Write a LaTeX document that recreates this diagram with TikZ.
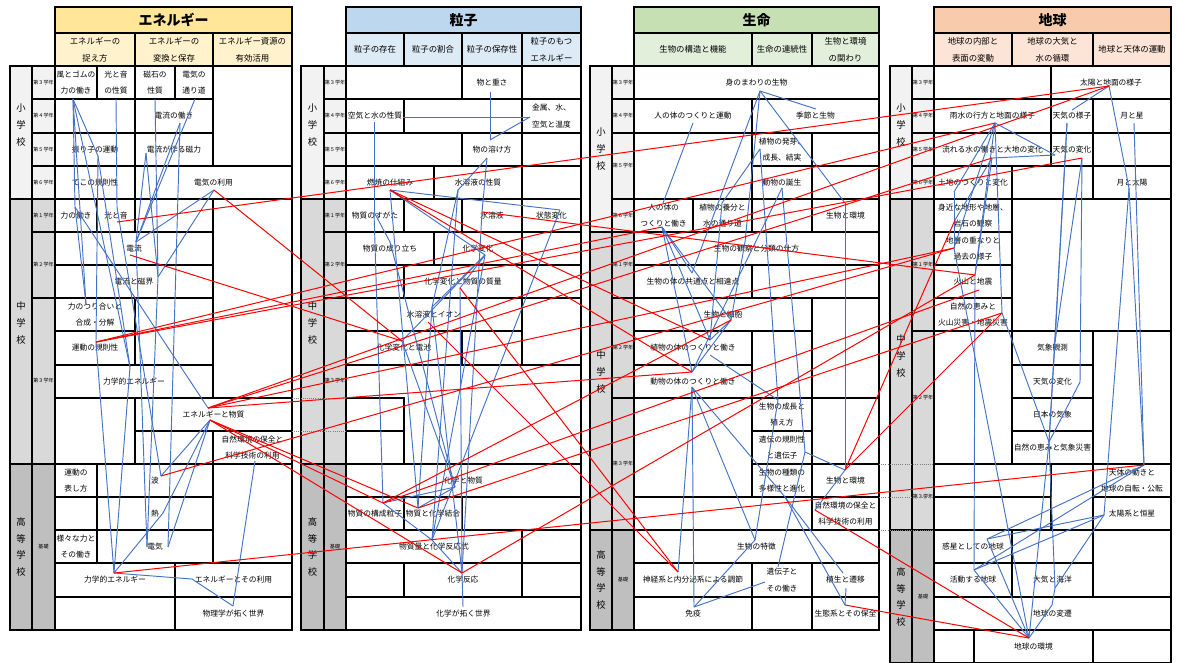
\documentclass[tikz,border=0pt]{standalone}
\usepackage{fontspec}
\setmainfont{Noto Sans CJK JP}
\definecolor{lb}{HTML}{4472C4}
\definecolor{rl}{HTML}{FF0000}
\definecolor{hY}{HTML}{FFE699}
\definecolor{sY}{HTML}{FFF2CC}
\definecolor{hB}{HTML}{BDD7EE}
\definecolor{sB}{HTML}{DDEBF7}
\definecolor{hG}{HTML}{C6E0B4}
\definecolor{sG}{HTML}{E2EFDA}
\definecolor{hO}{HTML}{F8CBAD}
\definecolor{sO}{HTML}{FCE4D6}
\definecolor{gE}{HTML}{F2F2F2}
\definecolor{gM}{HTML}{D9D9D9}
\definecolor{gH}{HTML}{BFBFBF}
\tikzset{
 grid/.style={draw=black, line width=0.9pt},
 ct/.style={font=\fontsize{5.8}{12.5}\selectfont, align=center, inner sep=0pt},
 st/.style={font=\fontsize{6.3}{12.5}\selectfont, align=center, inner sep=0pt},
 tt/.style={font=\fontsize{10.5}{12}\selectfont\bfseries, inner sep=0pt},
 sl/.style={font=\fontsize{7}{12.5}\selectfont, align=center, inner sep=0pt},
 gl/.style={font=\fontsize{3.8}{4}\selectfont, inner sep=0pt},
 bln/.style={draw=lb, line width=0.7pt},
 rdn/.style={draw=rl, line width=0.75pt},
 dot/.style={draw=gray, densely dotted, line width=0.6pt}
}
\newcommand\cel[6]{\draw[grid] (#2,#3) rectangle (#4,#5); \node[ct] (#1) at ({(#2+#4)/2},{(#3+#5)/2}) {#6};}
\newcommand\blk[4]{\draw[grid] (#1,#2) rectangle (#3,#4);}
\newcommand\fbx[5]{\draw[grid,fill=#5] (#1,#2) rectangle (#3,#4);}
\newcommand\BL[2]{\draw[bln] (#1) -- (#2);}
\newcommand\RL[2]{\draw[rdn] (#1) -- (#2);}
\begin{document}
\begin{tikzpicture}[x=0.75pt,y=-0.75pt]
\useasboundingbox (0,0) rectangle (1177,662);
\fill[white] (0,0) rectangle (1177,662);
% ================= PANEL 1 =================
\fbx{55}{7}{292}{33}{hY} \node[tt] (t1) at (173.5,20) {エネルギー};
\fbx{55}{33}{135}{66}{sY} \node[st] (s11) at (95,49.5) {エネルギーの\\捉え方};
\fbx{135}{33}{213}{66}{sY} \node[st] (s12) at (174,49.5) {エネルギーの\\変換と保存};
\fbx{213}{33}{292}{66}{sY} \node[st] (s13) at (252.5,49.5) {エネルギー資源の\\有効活用};
\fbx{10}{66}{32}{199}{gE} \node[sl] (k1e) at (21,125) {小\\学\\校};
\fbx{10}{199}{32}{464}{gM} \node[sl] (k1m) at (21,323) {中\\学\\校};
\fbx{10}{464}{32}{630}{gH} \node[sl] (k1h) at (21,547) {高\\等\\学\\校};
\fbx{32}{66}{55}{99}{gE} \node[gl] (g11) at (43.5,82.5) {第３学年};
\fbx{32}{99}{55}{133}{gE} \node[gl] (g12) at (43.5,116) {第４学年};
\fbx{32}{133}{55}{166}{gE} \node[gl] (g13) at (43.5,149.5) {第５学年};
\fbx{32}{166}{55}{199}{gE} \node[gl] (g14) at (43.5,182.5) {第６学年};
\fbx{32}{199}{55}{232}{gM} \node[gl] (g15) at (43.5,215.5) {第１学年};
\fbx{32}{232}{55}{298}{gM} \node[gl] (g16) at (43.5,265) {第２学年};
\fbx{32}{298}{55}{464}{gM} \node[gl] (g17) at (43.5,381) {第３学年};
\fbx{32}{464}{55}{630}{gH} \node[gl] (g18) at (43.5,547) {基礎};
\cel{a01}{55}{66}{97}{99}{風とゴムの\\力の働き}
\cel{a02}{97}{66}{135}{99}{光と音\\の性質}
\cel{a03}{135}{66}{175}{99}{磁石の\\性質}
\cel{a04}{175}{66}{213}{99}{電気の\\通り道}
\blk{213}{66}{292}{166}
\blk{55}{99}{135}{133}
\cel{a05}{135}{99}{213}{133}{電流の働き}
\cel{a06}{55}{133}{135}{166}{振り子の運動}
\cel{a07}{135}{133}{213}{166}{電流が作る磁力}
\cel{a08}{55}{166}{135}{199}{てこの規則性}
\cel{a09}{135}{166}{292}{199}{電気の利用}
\cel{a10}{55}{199}{97}{232}{力の働き}
\cel{a11}{97}{199}{135}{232}{光と音}
\blk{135}{199}{213}{232}
\blk{213}{199}{292}{398}
\cel{a12}{55}{232}{213}{265}{電流}
\cel{a13}{55}{265}{213}{298}{電流と磁界}
\cel{a14}{55}{298}{135}{331}{力のつり合いと\\合成・分解}
\blk{135}{298}{213}{365}
\cel{a15}{55}{331}{135}{365}{運動の規則性}
\cel{a16}{55}{365}{213}{398}{力学的エネルギー}
\blk{55}{398}{135}{464}
\cel{a17}{135}{398}{292}{431}{エネルギーと物質}
\blk{135}{431}{213}{464}
\cel{a18}{213}{431}{292}{464}{自然環境の保全と\\科学技術の利用}
\cel{a19}{55}{464}{97}{497}{運動の\\表し方}
\cel{a20}{97}{464}{213}{497}{波}
\blk{55}{497}{97}{530}
\cel{a21}{97}{497}{213}{530}{熱}
\cel{a22}{55}{530}{97}{563}{様々な力と\\その働き}
\cel{a23}{97}{530}{213}{563}{電気}
\blk{213}{464}{292}{563}
\cel{a24}{55}{563}{175}{597}{力学的エネルギー}
\cel{a25}{175}{563}{292}{597}{エネルギーとその利用}
\blk{55}{597}{175}{630}
\cel{a26}{175}{597}{292}{630}{物理学が拓く世界}
% ================= PANEL 2 =================
\fbx{346}{7}{581}{33}{hB} \node[tt] (t2) at (463.5,20) {粒子};
\fbx{346}{33}{404}{66}{sB} \node[st] (s21) at (375,49.5) {粒子の存在};
\fbx{404}{33}{462}{66}{sB} \node[st] (s22) at (433,49.5) {粒子の割合};
\fbx{462}{33}{522}{66}{sB} \node[st] (s23) at (492,49.5) {粒子の保存性};
\fbx{522}{33}{581}{66}{sB} \node[st] (s24) at (551.5,49.5) {粒子のもつ\\エネルギー};
\fbx{301}{66}{324}{199}{gE} \node[sl] (k2e) at (312.5,125) {小\\学\\校};
\fbx{301}{199}{324}{464}{gM} \node[sl] (k2m) at (312.5,323) {中\\学\\校};
\fbx{301}{464}{324}{630}{gH} \node[sl] (k2h) at (312.5,547) {高\\等\\学\\校};
\fbx{324}{66}{346}{99}{gE} \node[gl] (g21) at (335,82.5) {第３学年};
\fbx{324}{99}{346}{133}{gE} \node[gl] (g22) at (335,116) {第４学年};
\fbx{324}{133}{346}{166}{gE} \node[gl] (g23) at (335,149.5) {第５学年};
\fbx{324}{166}{346}{199}{gE} \node[gl] (g24) at (335,182.5) {第６学年};
\fbx{324}{199}{346}{232}{gM} \node[gl] (g25) at (335,215.5) {第１学年};
\fbx{324}{232}{346}{298}{gM} \node[gl] (g26) at (335,265) {第２学年};
\fbx{324}{298}{346}{464}{gM} \node[gl] (g27) at (335,381) {第３学年};
\fbx{324}{464}{346}{630}{gH} \node[gl] (g28) at (335,547) {基礎};
\blk{346}{66}{462}{99}
\cel{b01}{462}{66}{522}{99}{物と重さ}
\blk{522}{66}{581}{99}
\cel{b02}{346}{99}{404}{133}{空気と水の性質}
\blk{404}{99}{522}{133}
\cel{b03}{522}{99}{581}{133}{金属、水、\\空気と温度}
\blk{346}{133}{462}{166}
\cel{b04}{462}{133}{522}{166}{物の溶け方}
\blk{522}{133}{581}{166}
\cel{b05}{346}{166}{434}{199}{燃焼の仕組み}
\cel{b06}{434}{166}{522}{199}{水溶液の性質}
\blk{522}{166}{581}{199}
\cel{b07}{346}{199}{404}{232}{物質のすがた}
\blk{404}{199}{462}{232}
\cel{b08}{462}{199}{522}{232}{水溶液}
\cel{b09}{522}{199}{581}{232}{状態変化}
\cel{b10}{346}{232}{434}{265}{物質の成り立ち}
\cel{b11}{434}{232}{522}{265}{化学変化}
\blk{522}{232}{581}{265}
\blk{346}{265}{404}{298}
\cel{b12}{404}{265}{522}{298}{化学変化と物質の質量}
\blk{522}{265}{581}{298}
\cel{b13}{346}{298}{522}{331}{水溶液とイオン}
\blk{522}{298}{581}{365}
\cel{b14}{346}{331}{462}{365}{化学変化と電池}
\blk{462}{331}{522}{365}
\blk{346}{365}{581}{464}
\blk{346}{398}{404}{431}
\blk{346}{431}{404}{464}
\cel{b15}{346}{464}{581}{497}{化学と物質}
\cel{b16}{346}{497}{404}{530}{物質の構成粒子}
\cel{b17}{404}{497}{462}{530}{物質と化学結合}
\blk{462}{497}{581}{530}
\cel{b18}{346}{530}{522}{563}{物質量と化学反応式}
\blk{522}{530}{581}{563}
\blk{346}{563}{404}{597}
\cel{b19}{404}{563}{522}{597}{化学反応}
\blk{522}{563}{581}{597}
\cel{b20}{346}{597}{581}{630}{化学が拓く世界}
% ================= PANEL 3 =================
\fbx{634}{7}{879}{33}{hG} \node[tt] (t3) at (756.5,20) {生命};
\fbx{634}{33}{752}{66}{sG} \node[st] (s31) at (693,49.5) {生物の構造と機能};
\fbx{752}{33}{812}{66}{sG} \node[st] (s32) at (782,49.5) {生命の連続性};
\fbx{812}{33}{879}{66}{sG} \node[st] (s33) at (845.5,49.5) {生物と環境\\の関わり};
\fbx{590}{66}{612}{232}{gE} \node[sl] (k3e) at (601,149) {小\\学\\校};
\fbx{590}{232}{612}{530}{gM} \node[sl] (k3m) at (601,372) {中\\学\\校};
\fbx{590}{530}{612}{630}{gH} \node[sl] (k3h) at (601,580) {高\\等\\学\\校};
\fbx{612}{66}{634}{99}{gE} \node[gl] (g31) at (623,82.5) {第３学年};
\fbx{612}{99}{634}{133}{gE} \node[gl] (g32) at (623,116) {第４学年};
\fbx{612}{133}{634}{199}{gE} \node[gl] (g33) at (623,166) {第５学年};
\fbx{612}{199}{634}{232}{gE} \node[gl] (g34) at (623,215.5) {第６学年};
\fbx{612}{232}{634}{298}{gM} \node[gl] (g35) at (623,265) {第１学年};
\fbx{612}{298}{634}{398}{gM} \node[gl] (g36) at (623,348) {第２学年};
\fbx{612}{398}{634}{530}{gM} \node[gl] (g37) at (623,464) {第３学年};
\fbx{612}{530}{634}{630}{gH} \node[gl] (g38) at (623,580) {基礎};
\cel{c01}{634}{66}{879}{99}{身のまわりの生物}
\cel{c02}{634}{99}{752}{133}{人の体のつくりと運動}
\cel{c03}{752}{99}{879}{133}{季節と生物}
\blk{634}{133}{752}{199}
\cel{c04}{752}{133}{812}{166}{植物の発芽、\\成長、結実}
\cel{c05}{752}{166}{812}{199}{動物の誕生}
\blk{812}{133}{879}{166}
\blk{812}{166}{879}{199}
\cel{c06}{634}{199}{693}{232}{人の体の\\つくりと働き}
\cel{c07}{693}{199}{752}{232}{植物の養分と\\水の通り道}
\blk{752}{199}{812}{232}
\cel{c08}{812}{199}{879}{232}{生物と環境}
\cel{c09}{634}{232}{879}{265}{生物の観察と分類の仕方}
\cel{c10}{634}{265}{752}{298}{生物の体の共通点と相違点}
\blk{752}{265}{879}{298}
\cel{c11}{634}{298}{812}{331}{生物と細胞}
\blk{812}{298}{879}{398}
\cel{c12}{634}{331}{752}{365}{植物の体のつくりと働き}
\blk{752}{331}{812}{398}
\cel{c13}{634}{365}{752}{398}{動物の体のつくりと働き}
\blk{634}{398}{752}{497}
\cel{c14}{752}{398}{812}{431}{生物の成長と\\殖え方}
\cel{c15}{752}{431}{812}{464}{遺伝の規則性\\と遺伝子}
\cel{c16}{752}{464}{812}{497}{生物の種類の\\多様性と進化}
\blk{812}{398}{879}{464}
\cel{c17}{812}{464}{879}{497}{生物と環境}
\blk{634}{497}{812}{530}
\cel{c18}{812}{497}{879}{530}{自然環境の保全と\\科学技術の利用}
\cel{c19}{634}{530}{879}{563}{生物の特徴}
\cel{c20}{634}{563}{752}{597}{神経系と内分泌系による調節}
\cel{c21}{752}{563}{812}{597}{遺伝子と\\その働き}
\cel{c22}{812}{563}{879}{597}{植生と遷移}
\cel{c23}{634}{597}{752}{630}{免疫}
\blk{752}{597}{812}{630}
\cel{c24}{812}{597}{879}{630}{生態系とその保全}
% ================= PANEL 4 =================
\fbx{934}{7}{1171}{33}{hO} \node[tt] (t4) at (1052.5,20) {地球};
\fbx{934}{33}{1012}{66}{sO} \node[st] (s41) at (973,49.5) {地球の内部と\\表面の変動};
\fbx{1012}{33}{1093}{66}{sO} \node[st] (s42) at (1052.5,49.5) {地球の大気と\\水の循環};
\fbx{1093}{33}{1171}{66}{sO} \node[st] (s43) at (1132,49.5) {地球と天体の運動};
\fbx{890}{66}{912}{199}{gE} \node[sl] (k4e) at (901,125) {小\\学\\校};
\fbx{890}{199}{912}{530}{gM} \node[sl] (k4m) at (901,356) {中\\学\\校};
\fbx{890}{530}{912}{663}{gH} \node[sl] (k4h) at (901,597) {高\\等\\学\\校};
\fbx{912}{66}{934}{99}{gE} \node[gl] (g41) at (923,82.5) {第３学年};
\fbx{912}{99}{934}{133}{gE} \node[gl] (g42) at (923,116) {第４学年};
\fbx{912}{133}{934}{166}{gE} \node[gl] (g43) at (923,149.5) {第５学年};
\fbx{912}{166}{934}{199}{gE} \node[gl] (g44) at (923,182.5) {第６学年};
\fbx{912}{199}{934}{331}{gM} \node[gl] (g45) at (923,265) {第１学年};
\fbx{912}{331}{934}{530}{gM} \node[gl] (g46) at (923,398) {第２学年};
\node[gl] (g47) at (923,497) {第３学年};
\fbx{912}{530}{934}{663}{gH} \node[gl] (g48) at (923,597) {基礎};
\blk{934}{66}{1051}{99}
\cel{d01}{1051}{66}{1171}{99}{太陽と地面の様子}
\cel{d02}{934}{99}{1051}{133}{雨水の行方と地面の様子}
\cel{d03}{1051}{99}{1093}{133}{天気の様子}
\cel{d04}{1093}{99}{1171}{133}{月と星}
\cel{d05}{934}{133}{1051}{166}{流れる水の働きと大地の変化}
\cel{d06}{1051}{133}{1093}{166}{天気の変化}
\blk{1093}{133}{1171}{166}
\cel{d07}{934}{166}{1012}{199}{土地のつくりと変化}
\blk{1012}{166}{1093}{199}
\cel{d08}{1093}{166}{1171}{199}{月と太陽}
\cel{d09}{934}{199}{1012}{232}{身近な地形や地層、\\岩石の観察}
\cel{d10}{934}{232}{1012}{265}{地層の重なりと\\過去の様子}
\cel{d11}{934}{265}{1012}{298}{火山と地震}
\cel{d12}{934}{298}{1012}{331}{自然の恵みと\\火山災害・地震災害}
\blk{1012}{199}{1171}{331}
\blk{934}{331}{1012}{464}
\cel{d13}{1012}{331}{1093}{365}{気象観測}
\cel{d14}{1012}{365}{1093}{398}{天気の変化}
\cel{d15}{1012}{398}{1093}{431}{日本の気象}
\cel{d16}{1012}{431}{1093}{464}{自然の恵みと気象災害}
\blk{1093}{331}{1171}{464}
\blk{934}{464}{1051}{497}
\blk{934}{497}{1051}{530}
\blk{1051}{464}{1093}{530}
\cel{d17}{1093}{464}{1171}{497}{天体の動きと\\地球の自転・公転}
\cel{d18}{1093}{497}{1171}{530}{太陽系と恒星}
\cel{d19}{934}{530}{1012}{563}{惑星としての地球}
\blk{1012}{530}{1093}{563}
\blk{1093}{530}{1171}{597}
\cel{d20}{934}{563}{1012}{597}{活動する地球}
\cel{d21}{1012}{563}{1093}{597}{大気と海洋}
\cel{d22}{934}{597}{1171}{630}{地球の変遷}
\blk{934}{630}{974}{663}
\cel{d23}{974}{630}{1093}{663}{地球の環境}
\blk{1093}{630}{1171}{663}
% dotted separators
\draw[dot] (292,398) -- (346,398);
\draw[dot] (292,431) -- (346,431);
\draw[dot] (879,464) -- (934,464);
\draw[dot] (879,497) -- (934,497);
\draw[dot] (879,530) -- (934,530);
% ================= HUB COORDINATES =================
\coordinate (A1) at (73,99);   \coordinate (A2) at (116,99);
\coordinate (A3) at (155,99);  \coordinate (A4) at (195,99);
\coordinate (A5) at (180,123); \coordinate (A6) at (98,156);
\coordinate (A7) at (146,153); \coordinate (A8) at (214,190);
\coordinate (A9) at (75,207);  \coordinate (A10) at (117,207);
\coordinate (A10r) at (117,222);
\coordinate (A11) at (136,242); \coordinate (A11r) at (130,255);
\coordinate (A12) at (158,277); \coordinate (A13) at (86,304);
\coordinate (A14) at (96,342);  \coordinate (A15) at (130,367);
\coordinate (A16) at (208,408); \coordinate (A16b) at (210,420);
\coordinate (A17) at (255,461); \coordinate (A18) at (161,476);
\coordinate (A19) at (163,513); \coordinate (A20) at (147,547);
\coordinate (A20b) at (168,547); \coordinate (A21) at (114,573);
\coordinate (A22) at (192,579); \coordinate (A23) at (233,606);
\coordinate (B1) at (490,92);  \coordinate (B2) at (403,117);
\coordinate (B2b) at (374,122); \coordinate (B3) at (530,117);
\coordinate (B4) at (490,140); \coordinate (B4b) at (487,158);
\coordinate (B5) at (390,190); \coordinate (B6) at (458,190);
\coordinate (B7) at (374,212); \coordinate (B8) at (482,212);
\coordinate (B9) at (560,210); \coordinate (B10) at (390,242);
\coordinate (B11) at (485,255); \coordinate (B12) at (460,288);
\coordinate (B13) at (432,307); \coordinate (B13r) at (428,322);
\coordinate (B14) at (402,341); \coordinate (B15) at (455,487);
\coordinate (B16) at (383,503); \coordinate (B17) at (418,508);
\coordinate (B18) at (432,540); \coordinate (B19) at (462,573);
\coordinate (B20) at (463,607);
\coordinate (C1) at (760,91);  \coordinate (C2) at (816,109);
\coordinate (C3) at (693,123); \coordinate (C4) at (760,149);
\coordinate (C5) at (782,188); \coordinate (C6) at (663,203);
\coordinate (C6b) at (662,227); \coordinate (C7) at (722,203);
\coordinate (C8) at (845,203); \coordinate (C9) at (745,242);
\coordinate (C10) at (692,273); \coordinate (C11) at (731,320);
\coordinate (C12) at (710,340); \coordinate (C12b) at (710,355);
\coordinate (C13) at (692,372); \coordinate (C13b) at (692,387);
\coordinate (C14) at (778,400); \coordinate (C15) at (805,452);
\coordinate (C16) at (785,497); \coordinate (C17) at (845,470);
\coordinate (C18) at (815,510); \coordinate (C19) at (755,540);
\coordinate (C20) at (678,572); \coordinate (C21) at (778,567);
\coordinate (C21b) at (765,582); \coordinate (C22) at (843,573);
\coordinate (C22b) at (846,588); \coordinate (C23) at (694,607);
\coordinate (C24) at (845,605);
\coordinate (D1) at (1109,86);  \coordinate (D2) at (1072,110);
\coordinate (D2b) at (1067,123); \coordinate (D3) at (1134,123);
\coordinate (D4) at (995,123);  \coordinate (D5) at (992,158);
\coordinate (D6) at (1082,158); \coordinate (D6b) at (1055,155);
\coordinate (D7) at (954,192);  \coordinate (D8) at (1129,188);
\coordinate (D9) at (955,220);  \coordinate (D10) at (954,248);
\coordinate (D11) at (975,275); \coordinate (D11b) at (979,290);
\coordinate (D12) at (1002,313); \coordinate (D13) at (1055,342);
\coordinate (D14) at (1080,382); \coordinate (D15) at (1049,442);
\coordinate (D16) at (1144,465); \coordinate (D17) at (1104,515);
\coordinate (D18) at (987,539);  \coordinate (D19) at (974,570);
\coordinate (D20) at (1055,588); \coordinate (D21) at (1052,605);
\coordinate (D22) at (1029,638);
% ================= BLUE CONNECTORS =================
\BL{A1}{A9} \BL{A1}{A13} \BL{A1}{A6} \BL{A1}{A15} \BL{A6}{A14} \BL{A6}{A15}
\BL{A2}{A10} \BL{A10}{A18} \BL{A3}{A12} \BL{A4}{A11} \BL{A5}{A11} \BL{A5}{A20b}
\BL{A7}{A11} \BL{A7}{A12} \BL{A8}{A11} \BL{A8}{A12} \BL{A9}{A13} \BL{A9}{A16}
\BL{A11}{A20} \BL{A12}{A20} \BL{A14}{A21} \BL{A15}{A21} \BL{A16b}{A18}
\BL{A16b}{A19} \BL{A16b}{A20b} \BL{A21}{A19} \BL{A21}{A22} \BL{A22}{A23}
\BL{A17}{A23}
\BL{B2}{B3} \BL{B3}{B4} \BL{B4}{B1} \BL{B2b}{B7} \BL{B4b}{B6} \BL{B4b}{B8}
\BL{B5}{B9} \BL{B5}{B11} \BL{B5}{B17} \BL{B6}{B13} \BL{B6}{B18} \BL{B7}{B10}
\BL{B7}{B16} \BL{B8}{B19} \BL{B11}{B13} \BL{B11}{B14} \BL{B11}{B18} \BL{B11}{B12}
\BL{B12}{B19} \BL{B13}{B17} \BL{B13}{B19} \BL{B14}{B15} \BL{B15}{B16}
\BL{B15}{B17} \BL{B16}{B18} \BL{B18}{B19} \BL{B19}{B20} \BL{B9}{B18} \BL{B10}{B15}
\BL{C1}{C2} \BL{C1}{C8} \BL{C1}{C9} \BL{C1}{C10} \BL{C3}{C6} \BL{C4}{C7}
\BL{C4}{C14} \BL{C5}{C13} \BL{C5}{C15} \BL{C6b}{C10} \BL{C6b}{C11} \BL{C6b}{C12}
\BL{C6b}{C13} \BL{C7}{C12} \BL{C8}{C17} \BL{C9}{C11} \BL{C11}{C12} \BL{C11}{C13}
\BL{C12b}{C14} \BL{C13b}{C20} \BL{C13b}{C23} \BL{C13b}{C19} \BL{C13b}{C16}
\BL{C15}{C17} \BL{C15}{C21} \BL{C16}{C22} \BL{C16}{C24} \BL{C17}{C18}
\BL{C19}{C23} \BL{C21b}{C23} \BL{C22b}{C24} \BL{C14}{C19}
\BL{D1}{D2} \BL{D1}{D8} \BL{D3}{D16} \BL{D8}{D16} \BL{D8}{D17} \BL{D4}{D6b}
\BL{D5}{D6b} \BL{D4}{D7} \BL{D4}{D10} \BL{D4}{D11} \BL{D4}{D12} \BL{D5}{D9}
\BL{D5}{D11} \BL{D7}{D10} \BL{D2b}{D13} \BL{D2b}{D15} \BL{D6}{D14} \BL{D6}{D13}
\BL{D11}{D19} \BL{D12}{D15} \BL{D13}{D15} \BL{D14}{D15} \BL{D15}{D20}
\BL{D15}{D22} \BL{D16}{D18} \BL{D16}{D19} \BL{D17}{D18} \BL{D17}{D19}
\BL{D17}{D20} \BL{D18}{D22} \BL{D19}{D22} \BL{D20}{D21} \BL{D21}{D22} \BL{D10}{D22}
% ================= RED CONNECTORS =================
\RL{A10r}{D1} \RL{A8}{B14} \RL{A11r}{B14} \RL{A14}{D4} \RL{A14}{C6b} \RL{A14}{D6}
\RL{A16}{D1} \RL{A16}{D5} \RL{A16}{D10} \RL{A16}{C13} \RL{A16b}{B16} \RL{A16b}{B17}
\RL{A16b}{B19} \RL{A18}{D10} \RL{A21}{D16} \RL{B5}{C12} \RL{B5}{C13} \RL{B12}{C20}
\RL{B13r}{C20} \RL{B16}{C11} \RL{B19}{D11} \RL{C17}{D12} \RL{C17}{D9} \RL{C18}{D22}
\RL{C24}{D22} \RL{B16}{D11b} \RL{B17}{D12} \RL{B8}{D11}
\end{tikzpicture}
\end{document}
